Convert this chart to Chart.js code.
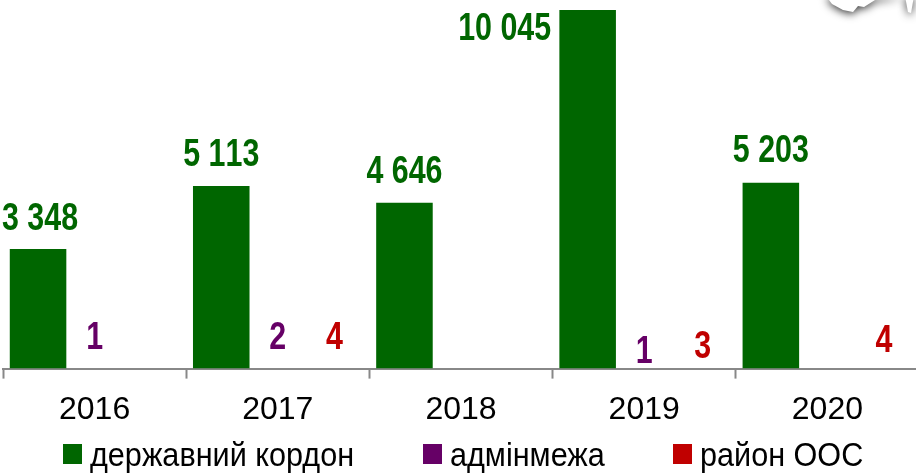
<!DOCTYPE html>
<html>
<head>
<meta charset="utf-8">
<script src="https://cdn.jsdelivr.net/npm/chart.js@4"></script>
<style>
  html, body { margin: 0; padding: 0; background: #fff; overflow: hidden; }
  #wrap { position: relative; width: 920px; height: 473px; }
  #legend { position: absolute; top: 0; left: 0; width: 916px; height: 473px; font-family: "Liberation Sans"; }
  .swatch { position: absolute; top: 444px; width: 19px; height: 20px; }
  .name { position: absolute; top: 434px; font-size: 34px; line-height: 40px; color: #000; white-space: nowrap; transform: scaleX(0.9); transform-origin: left top; }
</style>
</head>
<body>
<div id="wrap"><canvas id="chart1"></canvas><div id="legend"></div></div>
<script>
const years = ["2016", "2017", "2018", "2019", "2020"];
const stateBorder = [3348, 5113, 4646, 10045, 5203];
const adminBorder = [1, 2, null, 1, null];
const oosArea = [null, 4, null, 3, 4];

// label nudges in px, the source slide has them hand placed
const stateShift = [[2, -30], [0, -31], [0, -30], [-83, 20], [0, -31]];
const adminShift = [[0, -30], [0, -30], null, [0, -16], null];
const oosShift = [null, [0, -30], null, [2, -21], [0, -27]];

const green = "#006600";
const purple = "#660066";
const red = "#C00000";

// left edge of each legend entry
const legendX = [63, 423, 673];

function fmt(v) {
  return String(v).replace(/\B(?=(\d{3})+$)/g, " ");
}

const valueLabels = {
  id: "valueLabels",
  afterDatasetsDraw(chart) {
    const ctx = chart.ctx;
    chart.data.datasets.forEach((ds, i) => {
      const meta = chart.getDatasetMeta(i);
      ds.data.forEach((v, j) => {
        if (v === null) return;
        const bar = meta.data[j];
        ctx.save();
        ctx.translate(bar.x + ds.shift[j][0], bar.y + ds.shift[j][1]);
        ctx.scale(0.8, 1); // no narrow font here, squeeze the bold one
        ctx.font = "bold 38px 'Liberation Sans'";
        ctx.fontKerning = "none";
        ctx.textAlign = "center";
        ctx.textBaseline = "middle";
        ctx.fillStyle = ds.backgroundColor;
        ctx.fillText(fmt(v), 0, 0);
        ctx.restore();
      });
    });
  },
};

// bit of the map picture that pokes in at the top right corner
const mapCorner = {
  id: "mapCorner",
  afterDraw(chart) {
    const ctx = chart.ctx;
    ctx.save();
    ctx.shadowColor = "rgba(0,0,0,0.8)";
    ctx.shadowBlur = 9;
    ctx.shadowOffsetY = 2;
    ctx.fillStyle = "#fff";
    ctx.beginPath();
    ctx.moveTo(826, -4);
    ctx.lineTo(832, 4);
    ctx.lineTo(843, 10);
    ctx.lineTo(853, 12);
    ctx.lineTo(858, 6);
    ctx.lineTo(864, 7);
    ctx.lineTo(875, 0);
    ctx.lineTo(905, -4);
    ctx.closePath();
    ctx.fill();
    ctx.beginPath();
    ctx.moveTo(905, -4);
    ctx.lineTo(908, 12);
    ctx.lineTo(911, 13);
    ctx.lineTo(914, -4);
    ctx.closePath();
    ctx.fill();
    ctx.restore();
  },
};

const ctx1 = document.getElementById("chart1").getContext("2d");
const chart1 = new Chart(ctx1, {
  type: "bar",
  data: {
    labels: years,
    datasets: [
      { label: "державний кордон", data: stateBorder, backgroundColor: green, shift: stateShift },
      { label: "адмінмежа", data: adminBorder, backgroundColor: purple, shift: adminShift },
      { label: "район ООС", data: oosArea, backgroundColor: red, shift: oosShift },
    ],
  },
  options: {
    responsive: true,
    maintainAspectRatio: false,
    animation: false,
    layout: { padding: { left: 3, right: 1, top: 10, bottom: 32 } },
    datasets: { bar: { barPercentage: 1, categoryPercentage: 0.926, borderWidth: 0 } },
    scales: {
      x: {
        grid: { drawOnChartArea: false, drawTicks: true, tickLength: 10, tickColor: "#888", tickWidth: 2 },
        border: { color: "#888", width: 2 },
        ticks: { color: "#000", font: { family: "'Liberation Sans'", size: 32 }, padding: 12, maxRotation: 0 },
      },
      y: { display: false, min: 0, max: 10045 },
    },
    plugins: {
      tooltip: { enabled: false },
      legend: { display: false },
    },
  },
  plugins: [valueLabels, mapCorner],
});

// html legend, the built in one can't space the entries like the original
const legend = document.getElementById("legend");
chart1.data.datasets.forEach((ds, i) => {
  legend.innerHTML += `<div class="swatch" style="left:${legendX[i]}px;background:${ds.backgroundColor}"></div>`;
  legend.innerHTML += `<div class="name" style="left:${legendX[i] + 27}px">${ds.label}</div>`;
});
</script>
</body>
</html>
